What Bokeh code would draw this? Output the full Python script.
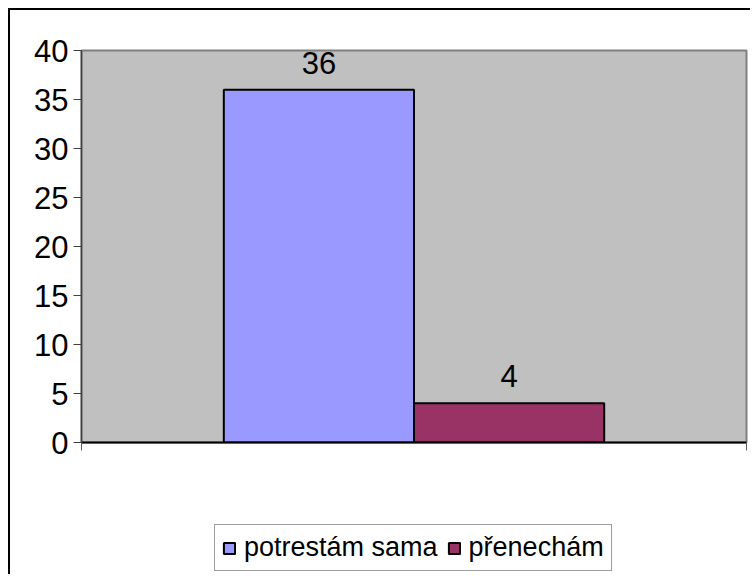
from bokeh.plotting import figure
from bokeh.layouts import column
from bokeh.models import Range1d, FixedTicker, Legend, LegendItem, ColumnDataSource, LabelSet
from bokeh.embed import file_html
from bokeh.resources import INLINE
from bokeh.core.properties import value

series = ["potrestám sama", "přenechám"]
values = [36, 4]
colors = ["#9999FF", "#993366"]
y_ticks = [0, 5, 10, 15, 20, 25, 30, 35, 40]

FONT = "Liberation Sans"
bar_w = 0.286
n = len(series)
xs = [0.5 + (i - (n - 1) / 2) * bar_w for i in range(n)]

# ---- main chart ----
p = figure(width=742, height=500, output_backend="svg", toolbar_location=None,
           x_range=Range1d(0, 1), y_range=Range1d(0, 40),
           min_border_left=71, min_border_top=40, min_border_right=6, min_border_bottom=68,
           border_fill_color="white")
p.styles = {"border-left": "2px solid black", "border-top": "2px solid black"}
p.background_fill_color = "#C0C0C0"
p.outline_line_color = "#808080"
p.outline_line_width = 2
p.grid.visible = False

src = ColumnDataSource(dict(x=xs, top=values, txt=[str(v) for v in values]))
for i in range(n):
    p.vbar(x=[xs[i]], top=[values[i]], width=bar_w, bottom=0,
           fill_color=colors[i], line_color="black", line_width=2)

labels = LabelSet(x="x", y="top", text="txt", source=src, text_align="center",
                  text_baseline="alphabetic", y_offset=16, text_font=value(FONT),
                  text_font_size=value("31px"), text_color=value("black"))
p.add_layout(labels)

ya = p.yaxis[0]
ya.ticker = FixedTicker(ticks=y_ticks)
ya.major_label_text_font = FONT
ya.major_label_text_font_size = "31px"
ya.major_label_text_color = "black"
ya.major_tick_out = 8
ya.major_tick_in = 0
ya.minor_tick_out = 0
ya.minor_tick_in = 0
ya.major_label_standoff = 5
ya.axis_line_color = "#404040"
ya.major_tick_line_color = "#404040"
ya.axis_line_width = 1.5

xa = p.xaxis[0]
xa.ticker = FixedTicker(ticks=[0, 1])
xa.major_label_overrides = {0: "", 1: ""}
xa.major_tick_out = 8
xa.major_tick_in = 0
xa.minor_tick_out = 0
xa.minor_tick_in = 0
xa.axis_line_color = "black"
xa.axis_line_width = 2
xa.major_tick_line_color = "#606060"

# ---- legend strip ----
q = figure(width=742, height=66, output_backend="svg", toolbar_location=None,
           x_range=Range1d(0, 1), y_range=Range1d(0, 40),
           x_axis_location=None, y_axis_location=None,
           min_border_left=0, min_border_right=0, min_border_top=0, min_border_bottom=0,
           border_fill_color="white", background_fill_color="white")
q.styles = {"border-left": "2px solid black"}
q.outline_line_color = None
q.grid.visible = False
items = []
for i in range(n):
    r = q.vbar(x=[xs[i]], top=[values[i]], width=bar_w, bottom=0,
               fill_color=colors[i], line_color="black", line_width=2, visible=False)
    items.append(LegendItem(label=series[i], renderers=[r]))

legend = Legend(items=items, orientation="horizontal", location=(133, 3),
                label_text_font=FONT, label_text_font_size="27px",
                label_text_color="black",
                glyph_width=14, glyph_height=14, label_standoff=8, spacing=9,
                padding=7, margin=0, inactive_fill_alpha=0,
                border_line_color="#404040", border_line_width=1,
                background_fill_color="white", background_fill_alpha=1)
q.add_layout(legend, "center")

layout = column(p, q, spacing=0,
                styles={"padding-left": "8px", "padding-top": "8px",
                        "background-color": "white"})

open("out.html", "w").write(file_html(layout, INLINE))
